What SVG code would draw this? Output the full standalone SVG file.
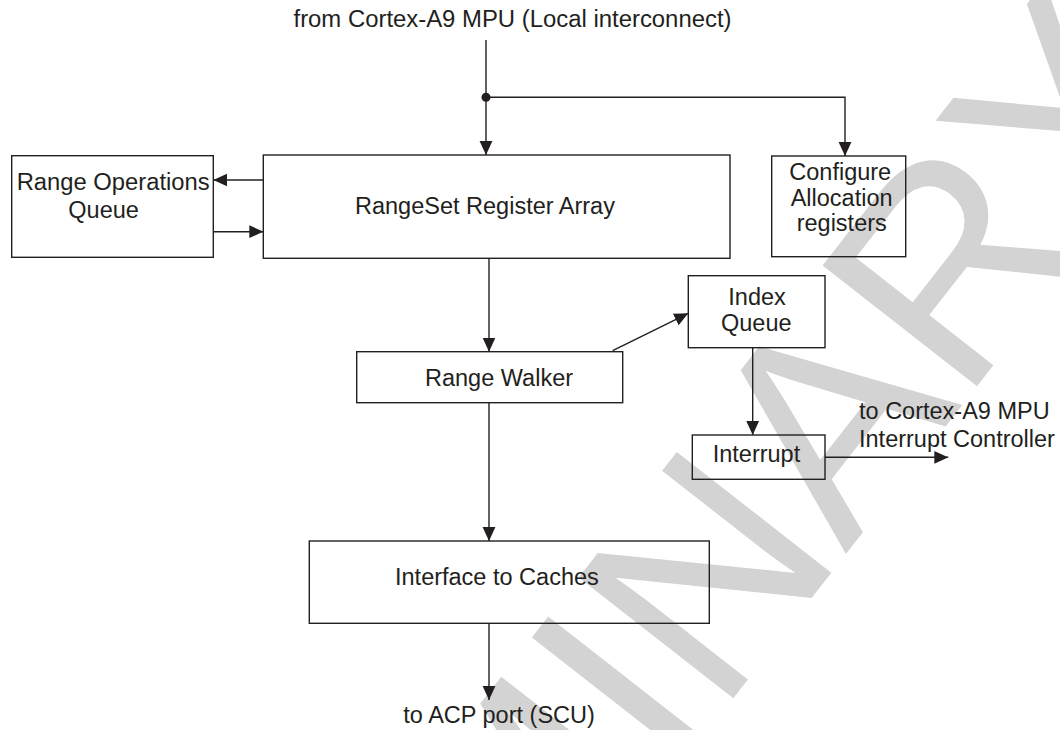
<svg xmlns="http://www.w3.org/2000/svg" width="1060" height="730" viewBox="0 0 1060 730">
<style>
.box{fill:none;stroke:#231f20;stroke-width:1.4}
.lbl{font-family:"Liberation Sans",Arial,sans-serif;font-size:23.5px;fill:#231f20}
.wire{fill:none;stroke:#231f20;stroke-width:1.4}
.wm{font-family:"Liberation Sans",Arial,sans-serif;font-size:285px;fill:#d3d3d3}
</style>
<defs>
<marker id="ah" markerUnits="userSpaceOnUse" markerWidth="14" markerHeight="14" viewBox="0 0 12 12" refX="12" refY="6" orient="auto">
<path d="M0,0.5 L12,6 L0,11.5 Z" fill="#231f20"/>
</marker>
</defs>
<rect width="1060" height="730" fill="#ffffff"/>
<g id="watermark">
<text class="wm" x="16.9" y="1615.1" transform="rotate(-52 16.9 1615.1)">PRELIMINARY</text>
</g>
<g id="connectors">
<path class="wire" d="M486,40 V155" marker-end="url(#ah)"/>
<path class="wire" d="M486,97.3 H845 V156" marker-end="url(#ah)"/>
<circle cx="486" cy="97.3" r="4.5" fill="#231f20"/>
<path class="wire" d="M263.3,180 H213.3" marker-end="url(#ah)"/>
<path class="wire" d="M213.3,231.7 H263.3" marker-end="url(#ah)"/>
<path class="wire" d="M489,258.3 V351.7" marker-end="url(#ah)"/>
<path class="wire" d="M612.7,350.7 L688.3,313.3" marker-end="url(#ah)"/>
<path class="wire" d="M752.7,347.7 V435" marker-end="url(#ah)"/>
<path class="wire" d="M825,457.3 H948.3" marker-end="url(#ah)"/>
<path class="wire" d="M489,402.7 V541" marker-end="url(#ah)"/>
<path class="wire" d="M489,623.3 V700" marker-end="url(#ah)"/>
</g>
<g id="title">
<text class="lbl" x="293.5" y="26.7" textLength="438" lengthAdjust="spacingAndGlyphs">from Cortex-A9 MPU (Local interconnect)</text>
</g>
<g id="range-ops-queue">
<rect class="box" x="11.7" y="155.7" width="201.6" height="101.6"/>
<text class="lbl" x="16.7" y="190" textLength="193" lengthAdjust="spacingAndGlyphs">Range Operations</text>
<text class="lbl" x="68.3" y="218.3">Queue</text>
</g>
<g id="rangeset">
<rect class="box" x="263.3" y="155" width="466.7" height="103.3"/>
<text class="lbl" x="355" y="214">RangeSet Register Array</text>
</g>
<g id="configure">
<rect class="box" x="771.7" y="156" width="134" height="100.7"/>
<text class="lbl" x="789.3" y="180">Configure</text>
<text class="lbl" x="790.7" y="205.5">Allocation</text>
<text class="lbl" x="796.7" y="231">registers</text>
</g>
<g id="index-queue">
<rect class="box" x="688.3" y="275.7" width="136.7" height="72"/>
<text class="lbl" x="728.3" y="305">Index</text>
<text class="lbl" x="721" y="330.7">Queue</text>
</g>
<g id="range-walker">
<rect class="box" x="356.7" y="351.7" width="266" height="51"/>
<text class="lbl" x="425" y="385.7">Range Walker</text>
</g>
<g id="interrupt">
<rect class="box" x="692.3" y="435" width="132.7" height="44.3"/>
<text class="lbl" x="712.7" y="461.7">Interrupt</text>
</g>
<g id="to-interrupt-controller">
<text class="lbl" x="859" y="419.3">to Cortex-A9 MPU</text>
<text class="lbl" x="859" y="446.7">Interrupt Controller</text>
</g>
<g id="interface-caches">
<rect class="box" x="309.3" y="541" width="400" height="82.3"/>
<text class="lbl" x="395" y="585">Interface to Caches</text>
</g>
<g id="to-acp">
<text class="lbl" x="403.3" y="722.5">to ACP port (SCU)</text>
</g>
</svg>
